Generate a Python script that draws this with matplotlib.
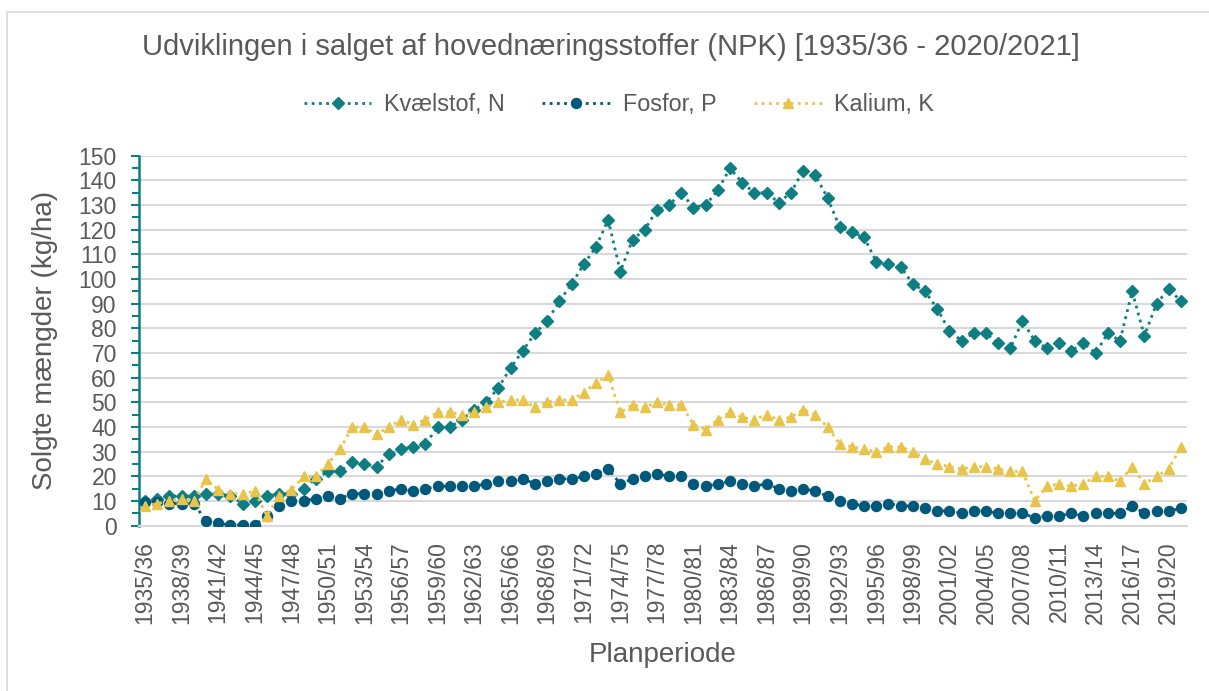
import matplotlib.pyplot as plt
from matplotlib.patches import Rectangle
from matplotlib.ticker import MultipleLocator

plt.rcParams['font.family'] = ['Liberation Sans', 'DejaVu Sans']

# Planperioder 1935/36 - 2020/21
periods = [f"{y}/{str(y + 1)[-2:]}" for y in range(1935, 2021)]

kvaelstof = [10, 11, 12, 12, 12, 13, 13, 12, 9, 10,
             12, 13, 13, 15, 19, 22, 22, 26, 25, 24,
             29, 31, 32, 33, 40, 40, 43, 47, 50, 56,
             64, 71, 78, 83, 91, 98, 106, 113, 124, 103,
             116, 120, 128, 130, 135, 129, 130, 136, 145, 139,
             135, 135, 131, 135, 144, 142, 133, 121, 119, 117,
             107, 106, 105, 98, 95, 88, 79, 75, 78, 78,
             74, 72, 83, 75, 72, 74, 71, 74, 70, 78,
             75, 95, 77, 90, 96, 91]

fosfor = [9.5, 9.5, 9, 9, 9, 2, 1, 0.3, 0.3, 0.3,
          4, 8, 10, 10, 11, 12, 11, 13, 13, 13,
          14, 15, 14, 15, 16, 16, 16, 16, 17, 18,
          18, 19, 17, 18, 19, 19, 20, 21, 23, 17,
          19, 20, 21, 20, 20, 17, 16, 17, 18, 17,
          16, 17, 15, 14, 15, 14, 12, 10, 9, 8,
          8, 9, 8, 8, 7, 6, 6, 5, 6, 6,
          5, 5, 5, 3.2, 4, 4, 5, 4, 5, 5,
          5, 8, 5, 6, 6, 7]

kalium = [8, 9, 10, 11, 10, 19, 14.5, 13, 13, 14,
          4, 12, 14.5, 20, 20, 25, 31, 40, 40, 37,
          40, 43, 41, 43, 46, 46, 45, 46, 48, 50,
          51, 51, 48, 50, 51, 51, 54, 58, 61, 46,
          49, 48, 50, 49, 49, 41, 39, 43, 46, 44,
          43, 45, 43, 44, 47, 45, 40, 33, 32, 31,
          30, 32, 32, 30, 27, 25, 24, 23, 24, 24,
          23, 22, 22, 10, 16, 17, 16, 17, 20, 20,
          18, 24, 17, 20, 23, 32]

txt = '#595959'
grid_col = '#D9D9D9'
c_n = '#0E7E82'
c_p = '#00587A'
c_k = '#E8C44A'

fig = plt.figure(figsize=(12.09, 6.91), dpi=100)
fig.patches.append(Rectangle((7 / 1209, -0.01), 1.02, 1 - 12 / 691 + 0.01, transform=fig.transFigure,
                             fill=False, edgecolor=grid_col, linewidth=1.2))
ax = fig.add_axes([139 / 1209, 1 - 525.7 / 691, 1048 / 1209, 370 / 691])

x = list(range(len(periods)))
ax.plot(x, kvaelstof, color=c_n, linestyle=(0, (1, 1.6)), linewidth=2,
        marker='D', markersize=6.2, label='Kvælstof, N', zorder=3)
ax.plot(x, fosfor, color=c_p, linestyle=(0, (1, 1.6)), linewidth=2,
        marker='o', markersize=7.2, label='Fosfor, P', zorder=3)
ax.plot(x, kalium, color=c_k, linestyle=(0, (1, 1.6)), linewidth=2,
        marker='^', markersize=7.5, label='Kalium, K', zorder=3)

ax.set_xlim(-0.5, len(periods) - 0.5)
ax.set_ylim(0, 150)
ax.yaxis.set_major_locator(MultipleLocator(10))
ax.yaxis.set_minor_locator(MultipleLocator(5))
ax.grid(axis='y', color=grid_col, linewidth=1.5)
ax.set_axisbelow(True)

ax.set_xticks(x[::3])
ax.set_xticklabels(periods[::3], rotation=90)
ax.tick_params(axis='x', length=0, labelsize=16.5, labelcolor=txt, pad=11)
ax.tick_params(axis='y', which='both', direction='out', color=c_n, width=1.5,
               labelsize=16.5, labelcolor=txt, pad=10)
ax.tick_params(axis='y', which='major', length=6)
ax.tick_params(axis='y', which='minor', length=5)

for side in ['top', 'right']:
    ax.spines[side].set_visible(False)
ax.spines['left'].set_color(c_n)
ax.spines['left'].set_linewidth(1.8)
ax.spines['bottom'].set_color(grid_col)
ax.spines['bottom'].set_linewidth(1.5)

ax.set_ylabel('Solgte mængder (kg/ha)', fontsize=20, color=txt)
ax.yaxis.set_label_coords(-(139 - 45) / 1048, 0.5)
ax.set_xlabel('Planperiode', fontsize=20, color=txt)
ax.xaxis.set_label_coords(0.5, -(655 - 525.7) / 370)
ax.xaxis.label.set_va('center')
ax.yaxis.label.set_va('center')

fig.suptitle('Udviklingen i salget af hovednæringsstoffer (NPK) [1935/36 - 2020/2021]',
             x=0.505, y=1 - 47 / 691, va='center', fontsize=21, color=txt)
fig.legend(loc='center', bbox_to_anchor=(0.512, 1 - 105 / 691), ncol=3, frameon=False,
           fontsize=16.8, labelcolor=txt, handlelength=2.9, columnspacing=1.6, handletextpad=0.55)

fig.savefig('out.png', dpi=100)
